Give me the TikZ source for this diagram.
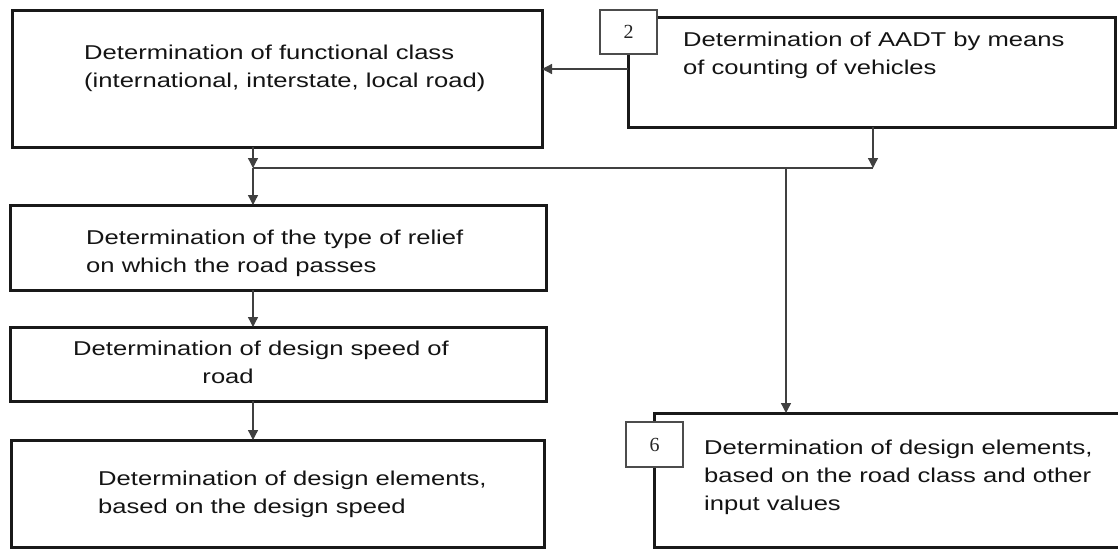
\documentclass[tikz,border=0pt]{standalone}
\usepackage{fontspec}
\usepackage{graphicx}
\setmainfont{Liberation Sans}
\newfontfamily\numfont{Liberation Serif}
\usetikzlibrary{arrows.meta}
\tikzset{
  box/.style={draw=black!90, line width=3pt, inner sep=0pt, outer sep=0pt, anchor=north west},
  lab/.style={draw=black!70, fill=white, line width=1.2pt, inner sep=0pt, outer sep=0pt, anchor=north west, font=\numfont\fontsize{20}{22}\selectfont, text=black!85},
  txt/.style={anchor=base west, inner sep=0pt, text=black!92},
  conn/.style={draw=black!75, line width=1.3pt},
  arr/.style={conn, -{Triangle[length=10pt,width=10pt]}},
}
\newcommand\stxt[1]{\scalebox{1.28}[1]{\fontsize{20}{28}\selectfont\begin{tabular}[t]{@{}l@{}}#1\end{tabular}}}
\begin{document}
\begin{tikzpicture}[x=1pt,y=1pt]
\useasboundingbox (0,0) rectangle (1118,-549);
\clip (0,0) rectangle (1118,-549);
\fill[white] (0,0) rectangle (1118,-549);
% boxes
\node[box, minimum width=529.5pt, minimum height=137pt] (A) at (12.5,-10) {};
\node[box, minimum width=487pt, minimum height=110pt] (B) at (628,-17) {};
\node[box, minimum width=536pt, minimum height=85pt] (C) at (10,-205) {};
\node[box, minimum width=536pt, minimum height=74pt] (E) at (10,-327) {};
\node[box, minimum width=533pt, minimum height=107pt] (F) at (11,-440) {};
\node[box, minimum width=480pt, minimum height=134pt] (D) at (654,-413) {};
% number labels
\node[lab, minimum width=57pt, minimum height=44pt] (L2) at (600,-10) {2};
\node[lab, minimum width=57pt, minimum height=45pt] (L6) at (626,-422) {6};
% texts
\node[txt] (tA) at (84,-59) {\stxt{Determination of functional class\\(international, interstate, local road)}};
\node[txt] (tB) at (683,-46) {\stxt{Determination of AADT by means\\of counting of vehicles}};
\node[txt] (tC) at (86,-244) {\stxt{Determination of the type of relief\\on which the road passes}};
\node[txt] (tE) at (73,-355) {\stxt{Determination of design speed of\\\hspace*{101pt}road}};
\node[txt] (tF) at (98,-485) {\stxt{Determination of design elements,\\based on the design speed}};
\node[txt] (tD) at (704,-454) {\stxt{Determination of design elements,\\based on the road class and other\\input values}};
% junction coordinates
\coordinate (j1) at (253,-168);
\coordinate (j2) at (873,-168);
\coordinate (j3) at (786,-168);
% connectors
\draw[arr] (B.west |- 0,-69) -- (A.east |- 0,-69);
\draw[arr] (j1 |- A.south) -- (j1);
\draw[arr] (j1) -- (j1 |- C.north);
\draw[conn] (j1) -- (j2);
\draw[arr] (j2 |- B.south) -- (j2);
\draw[arr] (j3) -- (j3 |- D.north);
\draw[arr] (j1 |- C.south) -- (j1 |- E.north);
\draw[arr] (j1 |- E.south) -- (j1 |- F.north);
\end{tikzpicture}
\end{document}
